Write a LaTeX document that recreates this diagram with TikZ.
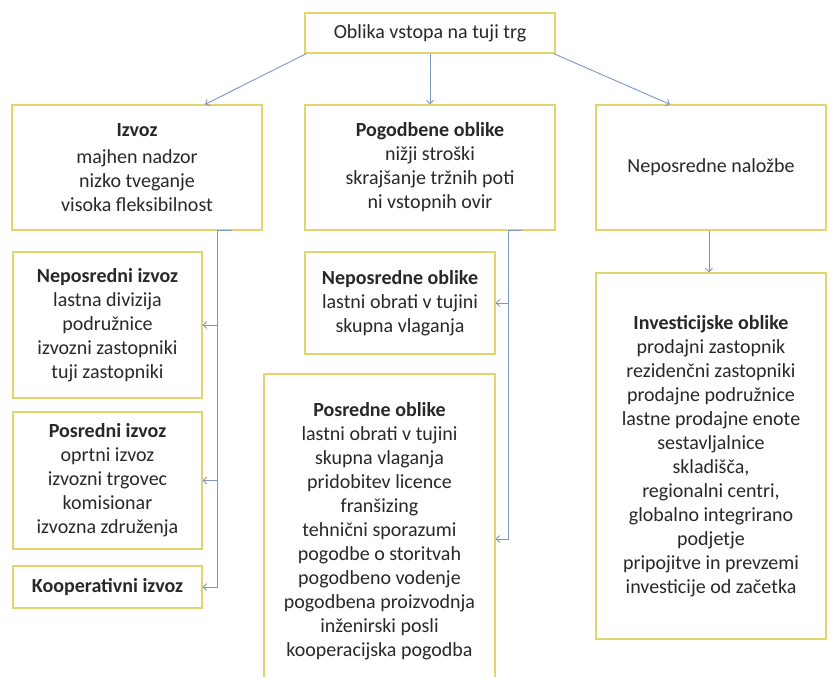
\documentclass[tikz,border=0pt]{standalone}
\usepackage{fontspec}
\setmainfont{Carlito}
\usetikzlibrary{arrows.meta,calc}
\definecolor{boxc}{RGB}{228,212,110}
\definecolor{linec}{RGB}{122,152,192}
\definecolor{txt}{RGB}{40,40,40}
\begin{document}
\begin{tikzpicture}[x=1pt,y=-1pt,
  box/.style={draw=boxc, line width=1.2pt, fill=white, align=center, inner sep=0pt,
    text=txt, font=\fontsize{20}{24}\selectfont},
  conn/.style={draw=linec, line width=0.9pt},
  arr/.style={conn, -{Straight Barb[length=3.5pt,width=7pt]}}]
\clip (0,0) rectangle (835,677);
\fill[white] (0,0) rectangle (835,677);
% level 0
\node[box, minimum width=250pt, minimum height=40pt] (top) at (430,33) {Oblika vstopa na tuji trg};
% level 1
\node[box, minimum width=250pt, minimum height=125pt] (izvoz) at (137,167.5)
  {\textbf{Izvoz}\\[3pt]majhen nadzor\\nizko tveganje\\visoka fleksibilnost};
\node[box, minimum width=250pt, minimum height=125pt] (pogod) at (430,167.5)
  {\textbf{Pogodbene oblike}\\nižji stroški\\skrajšanje tržnih poti\\ni vstopnih ovir};
\node[box, minimum width=230pt, minimum height=125pt] (nalozbe) at (711,167.5)
  {Neposredne naložbe};
% level 2 left
\node[box, minimum width=189pt, minimum height=146pt] (neizv) at (107.5,325)
  {\textbf{Neposredni izvoz}\\lastna divizija\\podružnice\\izvozni zastopniki\\tuji zastopniki};
\node[box, minimum width=189pt, minimum height=137pt] (poizv) at (107.5,480.5)
  {\textbf{Posredni izvoz}\\oprtni izvoz\\izvozni trgovec\\komisionar\\izvozna združenja};
\node[box, minimum width=189pt, minimum height=42pt] (koop) at (107.5,587)
  {\textbf{Kooperativni izvoz}};
% level 2 middle
\node[box, minimum width=190pt, minimum height=102pt] (neobl) at (400,303)
  {\textbf{Neposredne oblike}\\lastni obrati v tujini\\skupna vlaganja};
\node[box, minimum width=231pt, minimum height=314pt] (poobl) at (379.5,531)
  {\textbf{Posredne oblike}\\lastni obrati v tujini\\skupna vlaganja\\pridobitev licence\\franšizing\\tehnični sporazumi\\pogodbe o storitvah\\pogodbeno vodenje\\pogodbena proizvodnja\\inženirski posli\\kooperacijska pogodba};
% level 2 right
\node[box, minimum width=230pt, minimum height=366pt] (invest) at (711,456)
  {\textbf{Investicijske oblike}\\prodajni zastopnik\\rezidenčni zastopniki\\prodajne podružnice\\lastne prodajne enote\\sestavljalnice\\skladišča,\\regionalni centri,\\globalno integrirano\\podjetje\\pripojitve in prevzemi\\investicije od začetka};
% connectors from top
\draw[arr] ([xshift=2pt]top.south west) -- ([xshift=68pt]izvoz.north);
\draw[arr] (top.south) -- (pogod.north);
\draw[arr] ([xshift=-2pt]top.south east) -- ([xshift=-41pt]nalozbe.north);
% left trunk
\coordinate (lt) at ($(izvoz.south)+(80,0)$);
\draw[conn] ($(izvoz.south)+(95,0)$) -- (lt);
\draw[arr] (lt) |- (koop.east);
\draw[arr] (neizv.east -| lt) -- (neizv.east);
\draw[arr] (poizv.east -| lt) -- (poizv.east);
% middle trunk
\coordinate (mt) at ($(pogod.south)+(78,0)$);
\draw[conn] ($(pogod.south)+(92,0)$) -- (mt);
\draw[arr] (mt) |- ([yshift=-8pt]poobl.east);
\draw[arr] (neobl.east -| mt) -- (neobl.east);
% right
\draw[arr] ([xshift=-2pt]nalozbe.south) -- ([xshift=-2pt]invest.north);
\end{tikzpicture}
\end{document}
